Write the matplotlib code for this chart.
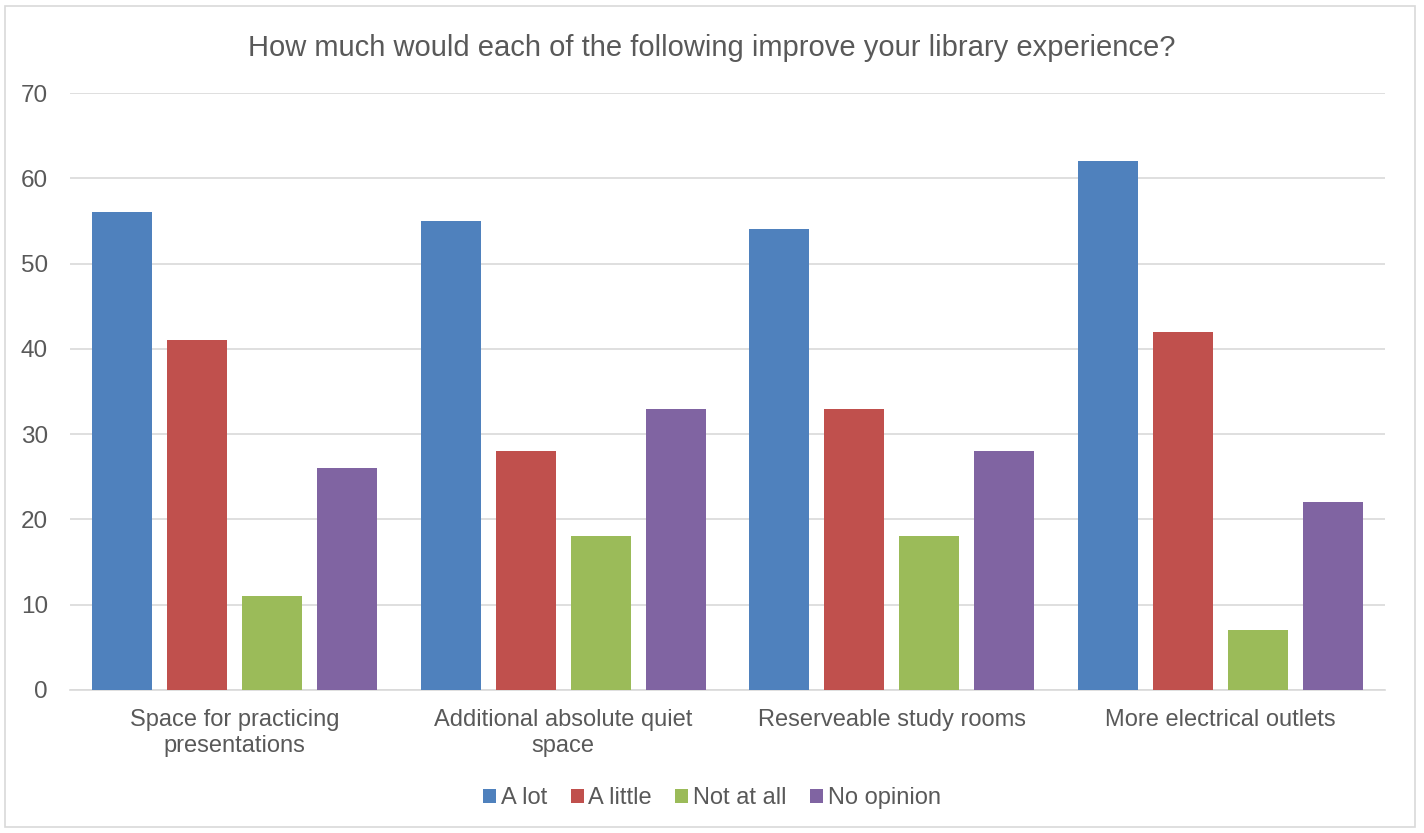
import matplotlib.pyplot as plt
import numpy as np
from matplotlib.patches import Rectangle

plt.rcParams["font.family"] = ["Liberation Sans", "DejaVu Sans"]

categories = ["Space for practicing\npresentations",
              "Additional absolute quiet\nspace",
              "Reserveable study rooms",
              "More electrical outlets"]
series_names = ["A lot", "A little", "Not at all", "No opinion"]
a_lot = [56, 55, 54, 62]
a_little = [41, 28, 33, 42]
not_at_all = [11, 18, 18, 7]
no_opinion = [26, 33, 28, 22]
yticks = [0, 10, 20, 30, 40, 50, 60, 70]

colors = ["#4F81BD", "#C0504D", "#9BBB59", "#8064A2"]
TEXT = "#595959"
GRID = "#D9D9D9"

fig = plt.figure(figsize=(14.24, 8.33), dpi=100)
ax = fig.add_axes([70 / 1424, 1 - 690 / 833, 1315 / 1424, 597 / 833])

x = np.arange(len(categories))
width = 0.1825
step = 0.228
for i, (vals, name) in enumerate(zip([a_lot, a_little, not_at_all, no_opinion], series_names)):
    ax.bar(x + (i - 1.5) * step, vals, width=width, color=colors[i],
           label=name, zorder=3)

ax.set_xlim(-0.5, len(categories) - 0.5)
ax.set_ylim(0, 70)
ax.set_yticks(yticks)
ax.yaxis.grid(True, color=GRID, linewidth=1.2, zorder=0)
ax.set_xticks(x)
ax.set_xticklabels(categories, fontsize=17, color=TEXT, linespacing=1.22)
ax.tick_params(axis="x", length=0, pad=14)
ax.tick_params(axis="y", length=0, labelsize=17.5, labelcolor=TEXT, pad=16)
for side in ["top", "right", "left"]:
    ax.spines[side].set_visible(False)
ax.spines["bottom"].set_color(GRID)
ax.spines["bottom"].set_linewidth(1.2)

fig.text(0.5, 1 - 48 / 833, "How much would each of the following improve your library experience?",
         ha="center", va="center", fontsize=21, color=TEXT)

leg = fig.legend(loc="center", bbox_to_anchor=(0.5, 1 - 798 / 833), ncol=4,
                 frameon=False, fontsize=17, handlelength=0.55, handleheight=0.55,
                 handletextpad=0.2, columnspacing=1.0)
for t in leg.get_texts():
    t.set_color(TEXT)

# outer chart border
fig.patches.append(Rectangle((5 / 1424, 1 - 827 / 833), 1410 / 1424, 821 / 833,
                             transform=fig.transFigure, fill=False,
                             edgecolor="#D9D9D9", linewidth=1.2))

fig.savefig("out.png", dpi=100, facecolor="white")
